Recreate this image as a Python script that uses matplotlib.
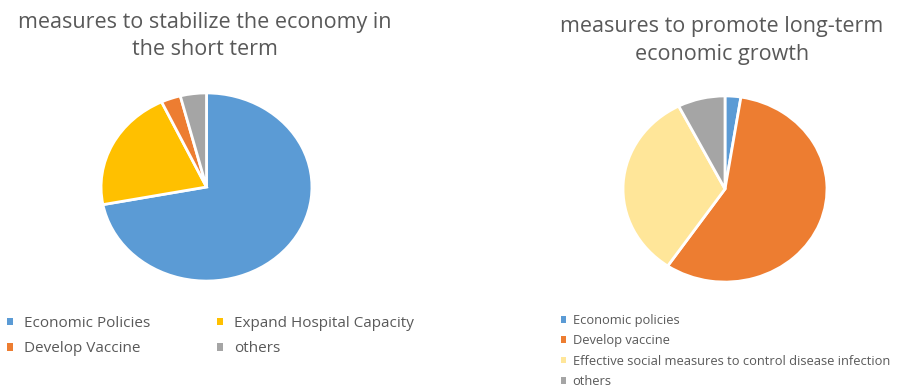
import matplotlib
matplotlib.use("Agg")
import matplotlib.pyplot as plt
from matplotlib.patches import Patch

plt.rcParams['font.family'] = ['Open Sans', 'DejaVu Sans']

# Data
left_title = "measures to stabilize the economy in\nthe short term"
left_labels = ["Economic Policies", "Expand Hospital Capacity", "Develop Vaccine", "others"]
left_values = [72, 21, 3, 4]
left_colors = ["#5B9BD5", "#FFC000", "#ED7D31", "#A5A5A5"]

right_title = "measures to promote long-term\neconomic growth"
right_labels = ["Economic policies", "Develop vaccine",
                "Effective social measures to control disease infection", "others"]
right_values = [2.5, 57, 33, 7.5]
right_colors = ["#5B9BD5", "#ED7D31", "#FFE699", "#A5A5A5"]

W, H = 898, 389
fig = plt.figure(figsize=(W / 100, H / 100), dpi=100)
fig.patch.set_facecolor("white")
txt = "#595959"

def px_axes(x0, y0, x1, y1):
    return fig.add_axes([x0 / W, 1 - y1 / H, (x1 - x0) / W, (y1 - y0) / H])

def draw_pie(ax, values, colors):
    ax.pie(values, colors=colors, startangle=90, counterclock=False,
           wedgeprops=dict(edgecolor="white", linewidth=2))
    ax.set_aspect("auto")
    ax.set_xlim(-1.01, 1.01)
    ax.set_ylim(-1.01, 1.01)
    ax.axis("off")

axL = px_axes(100, 92, 313, 282)
draw_pie(axL, left_values, left_colors)
axR = px_axes(622, 95, 828, 283)
draw_pie(axR, right_values, right_colors)

fig.text(205 / W, 1 - 36 / H, left_title, ha="center", va="center",
         fontsize=15.5, color=txt, linespacing=1.42)
fig.text(722 / W, 1 - 40.5 / H, right_title, ha="center", va="center",
         fontsize=15.5, color=txt, linespacing=1.42)

# legend in row-major order (two columns)
order = [0, 2, 1, 3]
hL = [Patch(facecolor=left_colors[i]) for i in order]
lL = [left_labels[i] for i in order]
fig.legend(hL, lL, loc="upper left", bbox_to_anchor=(7 / W, 1 - 316 / H),
           ncol=2, frameon=False, fontsize=11, labelcolor=txt,
           handlelength=0.4, handleheight=0.4, handletextpad=0.7,
           columnspacing=4.4, labelspacing=0.68, borderpad=0, borderaxespad=0)

hR = [Patch(facecolor=c) for c in right_colors]
fig.legend(hR, right_labels, loc="upper left", bbox_to_anchor=(561 / W, 1 - 314 / H),
           ncol=1, frameon=False, fontsize=9.3, labelcolor=txt,
           handlelength=0.4, handleheight=0.4, handletextpad=0.5,
           labelspacing=0.57, borderpad=0, borderaxespad=0)

fig.savefig("out.png", dpi=100, facecolor="white")
